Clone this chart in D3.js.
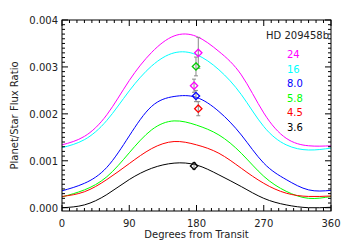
<!DOCTYPE html>
<html>
<head>
<meta charset="utf-8">
<script src="https://cdn.jsdelivr.net/npm/d3@7"></script>
<style>
  body { margin: 0; background: #fff; }
  svg text { font-family: "DejaVu Sans", sans-serif; font-size: 10px; fill: #222; }
</style>
</head>
<body>
<div id="chart"></div>
<script>
// orbital phase (degrees from transit) at which the curves were read
const phase = [0, 30, 60, 90, 120, 150, 180, 210, 240, 270, 300, 330, 360];

// model flux ratio curves, in units of 1e-3
const bands = ["24", "16", "8.0", "5.8", "4.5", "3.6"];
const bandColors = ["#ff00ff", "#00ffff", "#0000ff", "#00ff00", "#ff0000", "#000000"];
const curve24 = [1.34, 1.52, 1.98, 2.71, 3.31, 3.66, 3.65, 3.33, 2.83, 2.02, 1.48, 1.32, 1.32];
const curve16 = [1.28, 1.45, 1.86, 2.49, 3.02, 3.30, 3.26, 2.94, 2.41, 1.73, 1.34, 1.23, 1.27];
const curve80 = [0.36, 0.52, 0.86, 1.53, 2.16, 2.37, 2.35, 2.05, 1.55, 0.95, 0.60, 0.38, 0.37];
const curve58 = [0.23, 0.38, 0.66, 1.17, 1.66, 1.85, 1.76, 1.55, 1.16, 0.67, 0.35, 0.20, 0.24];
const curve45 = [0.24, 0.34, 0.60, 0.94, 1.26, 1.41, 1.34, 1.16, 0.84, 0.52, 0.31, 0.24, 0.25];
const curve36 = [0.00, 0.06, 0.28, 0.60, 0.84, 0.95, 0.91, 0.70, 0.45, 0.20, 0.06, 0.00, 0.01];
const curves = [curve24, curve16, curve80, curve58, curve45, curve36];

// measured eclipse depths (1e-3)
const obsPhase = [182.4, 179.3, 176.7, 179.3, 182.4, 176.7];
const obsValue = [3.30, 3.01, 2.60, 2.38, 2.11, 0.89];
const obsError = [0.33, 0.20, 0.14, 0.12, 0.15, 0.07];
const obsColors = ["#ff00ff", "#00cc00", "#ff00ff", "#0000ff", "#ff0000", "#000000"];

const xTicks = [0, 90, 180, 270, 360];
const yTicks = [0, 0.001, 0.002, 0.003, 0.004];

const width = 350, height = 250;
const margin = { left: 62, right: 19, top: 20, bottom: 39 };

const svg = d3.select("#chart").append("svg").attr("width", width).attr("height", height);

const x = d3.scaleLinear().domain([0, 360]).range([margin.left, width - margin.right]);
const y = d3.scaleLinear().domain([-0.00007, 0.004]).range([height - margin.bottom, margin.top]);

// curves
const line = d3.line()
  .x((d, i) => x(phase[i]))
  .y(d => y(d / 1000))
  .curve(d3.curveNatural);

svg.append("g")
  .selectAll("path")
  .data(curves)
  .join("path")
  .attr("d", line)
  .attr("fill", "none")
  .attr("stroke", (d, i) => bandColors[i])
  .attr("stroke-width", 1);

// error bars
const eb = svg.append("g").attr("stroke", "#888").attr("stroke-width", 1);
obsValue.forEach((v, i) => {
  const cx = x(obsPhase[i]);
  const lo = y((v - obsError[i]) / 1000), hi = y((v + obsError[i]) / 1000);
  eb.append("line").attr("x1", cx).attr("x2", cx).attr("y1", lo).attr("y2", hi);
  eb.append("line").attr("x1", cx - 2).attr("x2", cx + 2).attr("y1", lo).attr("y2", lo);
  eb.append("line").attr("x1", cx - 2).attr("x2", cx + 2).attr("y1", hi).attr("y2", hi);
});

// diamond markers
const diamond = d3.symbol().type(d3.symbolDiamond2).size(34);
svg.append("g")
  .selectAll("path")
  .data(obsValue)
  .join("path")
  .attr("d", diamond)
  .attr("transform", (d, i) => `translate(${x(obsPhase[i])},${y(d / 1000)})`)
  .attr("fill", "none")
  .attr("stroke", (d, i) => obsColors[i])
  .attr("stroke-width", 1.3);

// frame with inward ticks on all four sides
const frame = svg.append("g");
const x0 = x.range()[0], x1 = x.range()[1], y0 = y.range()[0], y1 = y.range()[1];
frame.append("rect")
  .attr("x", x0).attr("y", y1).attr("width", x1 - x0).attr("height", y0 - y1)
  .attr("fill", "none").attr("stroke", "#000").attr("stroke-width", 1);

const xMinor = d3.range(0, 361, 10);
const yMinor = d3.range(0, 41).map(k => k * 0.0001);
const tk = frame.append("g").attr("stroke", "#000").attr("stroke-width", 1);
xMinor.forEach(d => {
  const len = d % 90 === 0 ? 6 : 3;
  tk.append("line").attr("x1", x(d)).attr("x2", x(d)).attr("y1", y0).attr("y2", y0 - len);
  tk.append("line").attr("x1", x(d)).attr("x2", x(d)).attr("y1", y1).attr("y2", y1 + len);
});
yMinor.forEach((d, k) => {
  const len = k % 10 === 0 ? 6 : 3;
  tk.append("line").attr("x1", x0).attr("x2", x0 + len).attr("y1", y(d)).attr("y2", y(d));
  tk.append("line").attr("x1", x1).attr("x2", x1 - len).attr("y1", y(d)).attr("y2", y(d));
});

// tick labels
svg.append("g")
  .selectAll("text")
  .data(xTicks)
  .join("text")
  .attr("x", d => x(d))
  .attr("y", y0 + 16)
  .attr("text-anchor", "middle")
  .text(d => d);

svg.append("g")
  .selectAll("text")
  .data(yTicks)
  .join("text")
  .attr("x", x0 - 4)
  .attr("y", d => y(d) + 4)
  .attr("text-anchor", "end")
  .text(d3.format(".3f"));

// axis titles
svg.append("text")
  .attr("x", (x0 + x1) / 2)
  .attr("y", height - 12)
  .attr("text-anchor", "middle")
  .text("Degrees from Transit");

svg.append("text")
  .attr("transform", `translate(18,${(y0 + y1) / 2}) rotate(-90)`)
  .attr("text-anchor", "middle")
  .text("Planet/Star Flux Ratio");

// legend
svg.append("text")
  .attr("x", x1 - 2)
  .attr("y", 39)
  .attr("text-anchor", "end")
  .text("HD 209458b");

svg.append("g")
  .selectAll("text")
  .data(bands)
  .join("text")
  .attr("x", 287)
  .attr("y", (d, i) => 58 + i * 14.5)
  .style("fill", (d, i) => bandColors[i])
  .text(d => d);
</script>
</body>
</html>
